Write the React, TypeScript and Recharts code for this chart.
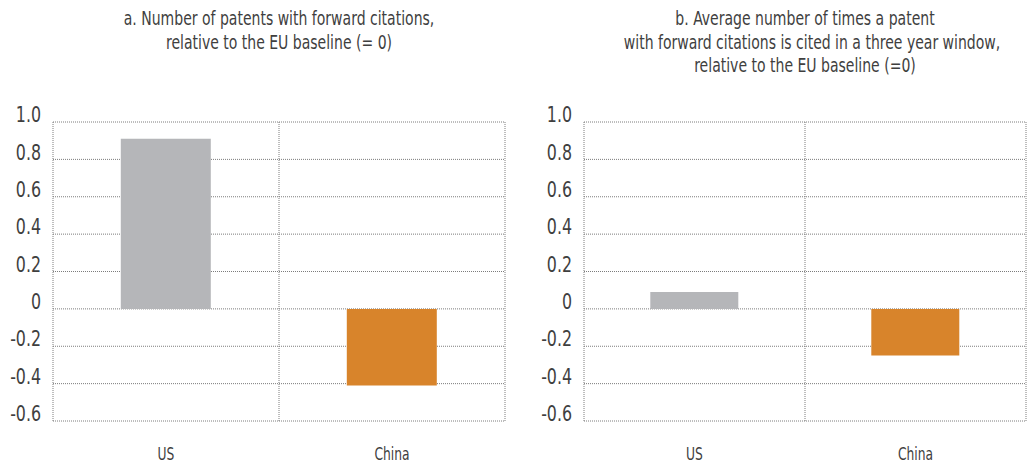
import { BarChart, Bar, XAxis, YAxis, CartesianGrid, Cell } from "recharts";

const categories = ["US", "China"];
// a. patents with forward citations, relative to EU (=0)
const patentsWithCitations = [0.91, -0.41];
// b. average citations in a three year window, relative to EU (=0)
const avgCitations = [0.09, -0.25];
const yTicks = [-0.6, -0.4, -0.2, 0, 0.2, 0.4, 0.6, 0.8, 1.0];
const barColors = ["#b5b6b9", "#d8842b"];

const titleA = [
  "a. Number of patents with forward citations,",
  "relative to the EU baseline (= 0)",
];
const titleB = [
  "b. Average number of times a patent",
  "with forward citations is cited in a three year window,",
  "relative to the EU baseline (=0)",
];

// no condensed font installed, so squeeze DejaVu Sans Condensed a bit
const FONT = "'DejaVu Sans Condensed', 'DejaVu Sans', sans-serif";
const TEXT = "#3f3f3f";
const GRID = "#7c7c7c";

function fmt(v: number): string {
  return v === 0 ? "0" : v.toFixed(1);
}

// y labels sit a little above their grid line in the original
function YTick(props: any) {
  const { x, y, payload } = props;
  return (
    <text
      transform={`translate(${x},${y - 7}) scale(0.8,1)`}
      textAnchor="end"
      dominantBaseline="central"
      fill={TEXT}
      fontSize={22}
      fontFamily={FONT}
    >
      {fmt(payload.value)}
    </text>
  );
}

function XTick(props: any) {
  const { x, y, payload } = props;
  return (
    <text
      transform={`translate(${x},${y}) scale(0.76,1)`}
      textAnchor="middle"
      dominantBaseline="hanging"
      fill={TEXT}
      fontSize={18}
      fontFamily={FONT}
    >
      {payload.value}
    </text>
  );
}

interface PanelProps {
  values: number[];
  title: string[];
  left: number;
  width: number;
  yAxisWidth: number;
  rightMargin: number;
}

function Panel({ values, title, left, width, yAxisWidth, rightMargin }: PanelProps) {
  const data = categories.map((c, i) => ({ name: c, value: values[i] }));
  const plotWidth = width - yAxisWidth - rightMargin;
  return (
    <div style={{ position: "absolute", left, top: 0, width, height: 463 }}>
      <div
        style={{
          position: "absolute",
          left: yAxisWidth,
          top: 7,
          width: plotWidth,
          textAlign: "center",
          fontSize: 19,
          lineHeight: "23.5px",
          color: TEXT,
          fontFamily: FONT,
          transform: "scaleX(0.82)",
          transformOrigin: "center",
          whiteSpace: "nowrap",
        }}
      >
        {title.map((t) => (
          <div key={t}>{t}</div>
        ))}
      </div>
      <BarChart
        width={width}
        height={463}
        data={data}
        margin={{ top: 122, right: rightMargin, bottom: 0, left: 0 }}
        barCategoryGap="30%"
      >
        <CartesianGrid
          stroke={GRID}
          strokeDasharray="1 1"
          verticalCoordinatesGenerator={({ offset }: any) => [
            offset.left,
            offset.left + offset.width / 2,
            offset.left + offset.width,
          ]}
        />
        <XAxis
          dataKey="name"
          axisLine={false}
          tickLine={false}
          tickSize={0}
          tickMargin={25}
          height={42}
          tick={<XTick />}
        />
        <YAxis
          domain={[-0.6, 1.0]}
          ticks={yTicks}
          width={yAxisWidth}
          axisLine={false}
          tickLine={false}
          tickSize={0}
          tickMargin={12}
          interval={0}
          tick={<YTick />}
        />
        <Bar dataKey="value" isAnimationActive={false}>
          {data.map((d, i) => (
            <Cell key={d.name} fill={barColors[i]} />
          ))}
        </Bar>
      </BarChart>
    </div>
  );
}

export default function App() {
  return (
    <div
      style={{
        position: "absolute",
        left: 0,
        top: 0,
        width: 1027,
        height: 463,
        background: "#ffffff",
        fontFamily: FONT,
      }}
    >
      <Panel
        values={patentsWithCitations}
        title={titleA}
        left={0}
        width={515}
        yAxisWidth={53}
        rightMargin={10}
      />
      <Panel
        values={avgCitations}
        title={titleB}
        left={515}
        width={512}
        yAxisWidth={69}
        rightMargin={1}
      />
    </div>
  );
}
